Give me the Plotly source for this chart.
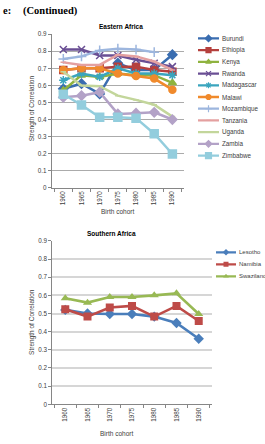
import plotly.graph_objects as go

W, H = 265, 444

cohorts = ["1960", "1965", "1970", "1975", "1980", "1985", "1990"]
y_ticks = [0, 0.1, 0.2, 0.3, 0.4, 0.5, 0.6, 0.7, 0.8, 0.9]
y_ticktext = ["0", "0.1", "0.2", "0.3", "0.4", "0.5", "0.6", "0.7", "0.8", "0.9"]

# Eastern Africa
east_names = ["Burundi", "Ethiopia", "Kenya", "Rwanda", "Madagascar", "Malawi",
              "Mozambique", "Tanzania", "Uganda", "Zambia", "Zimbabwe"]
burundi = [0.58, 0.61, 0.55, 0.73, 0.69, 0.69, 0.78]
ethiopia = [0.69, 0.70, 0.70, 0.71, 0.71, 0.69, 0.68]
kenya = [0.57, 0.66, 0.65, 0.67, 0.66, 0.66, 0.615]
rwanda = [0.81, 0.81, 0.775, 0.775, 0.75, 0.73, 0.71]
madagascar = [0.63, 0.67, 0.65, 0.70, 0.67, 0.67, 0.66]
malawi = [0.69, 0.70, 0.70, 0.67, 0.655, 0.64, 0.575]
mozambique = [0.755, 0.77, 0.805, 0.815, 0.81, 0.795, None]
tanzania = [0.735, 0.72, 0.72, 0.78, 0.77, 0.74, 0.69]
uganda = [0.68, 0.60, 0.595, 0.54, 0.515, 0.487, 0.417]
zambia = [0.53, 0.54, 0.56, 0.433, 0.437, 0.442, 0.40]
zimbabwe = [0.548, 0.485, 0.413, 0.413, 0.408, 0.317, 0.198]
east_values = [burundi, ethiopia, kenya, rwanda, madagascar, malawi,
               mozambique, tanzania, uganda, zambia, zimbabwe]

# Southern Africa
south_names = ["Lesotho", "Namibia", "Swaziland"]
lesotho = [0.52, 0.50, 0.497, 0.497, 0.483, 0.448, 0.361]
namibia = [0.524, 0.483, 0.533, 0.542, 0.483, 0.542, 0.459]
swaziland = [0.584, 0.56, 0.591, 0.591, 0.60, 0.611, 0.497]
south_values = [lesotho, namibia, swaziland]

# styles
east_colors = ["#3A6DB0", "#B5403D", "#8FB33F", "#6A4F94", "#3AA5BE", "#F08A2C",
               "#9DB6DE", "#E4A0A0", "#C3D69B", "#B3A2C7", "#93CDDD"]
east_symbols = ["diamond", "square", "triangle-up", "x-thin-open", "asterisk-open", "circle",
                "cross-thin-open", "line-ew-open", "line-ew-open", "diamond", "square"]
east_msize = [7, 7, 7, 7, 7, 7, 7, 4, 4, 7, 8]
south_colors = ["#4A7EBB", "#BE4B48", "#98B954"]
south_symbols = ["diamond", "square", "triangle-up"]


def px(x):
    return x / W


def py(y):
    return 1 - y / H


fig = go.Figure()

# main series
for name, vals, c, s, ms in zip(east_names, east_values, east_colors, east_symbols, east_msize):
    fig.add_trace(go.Scatter(x=cohorts, y=vals, name=name, mode="lines+markers",
                             line=dict(color=c, width=2.5),
                             marker=dict(symbol=s, size=ms, color=c, line=dict(color=c, width=1.5)),
                             xaxis="x", yaxis="y", showlegend=False, connectgaps=False))
for name, vals, c, s in zip(south_names, south_values, south_colors, south_symbols):
    fig.add_trace(go.Scatter(x=cohorts, y=vals, name=name, mode="lines+markers",
                             line=dict(color=c, width=2.6),
                             marker=dict(symbol=s, size=8, color=c),
                             xaxis="x2", yaxis="y2", showlegend=False))

# custom legends (legend subplots: x in px-units, y = entry index)
annotations = []
legfont = dict(size=6.3, color="#404040", family="Liberation Sans")
for i, (name, c, s, ms) in enumerate(zip(east_names, east_colors, east_symbols, east_msize)):
    fig.add_trace(go.Scatter(x=[0, 21], y=[i, i], mode="lines", line=dict(color=c, width=2.3),
                             xaxis="x3", yaxis="y3", showlegend=False, hoverinfo="skip"))
    fig.add_trace(go.Scatter(x=[10.5], y=[i], mode="markers",
                             marker=dict(symbol=s, size=max(ms - 2, 3), color=c, line=dict(color=c, width=1.2)),
                             xaxis="x3", yaxis="y3", showlegend=False, hoverinfo="skip"))
    annotations.append(dict(x=22.5, y=i, xref="x3", yref="y3", text=name, showarrow=False,
                            xanchor="left", yanchor="middle", font=legfont))
for i, (name, c, s) in enumerate(zip(south_names, south_colors, south_symbols)):
    fig.add_trace(go.Scatter(x=[0, 20], y=[i, i], mode="lines", line=dict(color=c, width=2.3),
                             xaxis="x4", yaxis="y4", showlegend=False, hoverinfo="skip"))
    fig.add_trace(go.Scatter(x=[10], y=[i], mode="markers",
                             marker=dict(symbol=s, size=5, color=c),
                             xaxis="x4", yaxis="y4", showlegend=False, hoverinfo="skip"))
    annotations.append(dict(x=20.5, y=i, xref="x4", yref="y4", text=name, showarrow=False,
                            xanchor="left", yanchor="middle", font=dict(size=6.0, color="#404040",
                                                                        family="Liberation Sans")))

tickfont = dict(size=6.3, color="#404040", family="Liberation Sans")


def xaxis_cfg(domain, anchor):
    return dict(domain=domain, anchor=anchor, type="category", tickangle=-90,
                ticks="outside", tickson="boundaries", ticklen=3, tickcolor="#868686",
                showline=True, linecolor="#868686", linewidth=1, showgrid=False,
                tickfont=tickfont, fixedrange=True)


def yaxis_cfg(domain, anchor, gridcolor, gridwidth):
    return dict(domain=domain, anchor=anchor, range=[0, 0.9], tickvals=y_ticks,
                ticktext=y_ticktext, ticks="outside", ticklen=3, tickcolor="#868686",
                showline=True, linecolor="#868686", linewidth=1,
                showgrid=True, gridcolor=gridcolor, gridwidth=gridwidth, zeroline=False,
                tickfont=tickfont, fixedrange=True)


top_x = [px(51.7), px(184)]
top_y = [py(186.7), py(30.7)]
bot_x = [px(52.3), px(211.7)]
bot_y = [py(406.7), py(240.7)]

n_e = len(east_names)
leg_e_step = 11.9
leg_e_top = 35
leg_s_step = 12.2
leg_s_top = 252.3
n_s = len(south_names)

fig.update_layout(
    width=W, height=H, margin=dict(l=0, r=0, t=0, b=0),
    paper_bgcolor="white", plot_bgcolor="white",
    xaxis=xaxis_cfg(top_x, "y"),
    yaxis=yaxis_cfg(top_y, "x", "#ABABAB", 1),
    xaxis2=xaxis_cfg(bot_x, "y2"),
    yaxis2=yaxis_cfg(bot_y, "x2", "#D6D6D6", 1.6),
    xaxis3=dict(domain=[px(198), px(265)], range=[0, 67], visible=False, anchor="y3", fixedrange=True),
    yaxis3=dict(domain=[py(leg_e_top + (n_e - 0.5) * leg_e_step), py(leg_e_top - 0.5 * leg_e_step)],
                range=[n_e - 0.5, -0.5], visible=False, anchor="x3", fixedrange=True),
    xaxis4=dict(domain=[px(216), px(265)], range=[0, 49], visible=False, anchor="y4", fixedrange=True),
    yaxis4=dict(domain=[py(leg_s_top + (n_s - 0.5) * leg_s_step), py(leg_s_top - 0.5 * leg_s_step)],
                range=[n_s - 0.5, -0.5], visible=False, anchor="x4", fixedrange=True),
    showlegend=False,
)

labfont = dict(size=6.5, color="#404040", family="Liberation Sans")
titlefont = dict(size=6.5, color="#000000", family="Liberation Sans")
annotations += [
    dict(x=px(0.5), y=py(7), xref="paper", yref="paper", text="<b>e:</b>", showarrow=False,
         xanchor="left", yanchor="middle", font=dict(size=10.5, color="#000", family="Liberation Serif")),
    dict(x=px(21), y=py(7), xref="paper", yref="paper", text="<b>(Continued)</b>", showarrow=False,
         xanchor="left", yanchor="middle", font=dict(size=10.5, color="#000", family="Liberation Serif")),
    dict(x=px(121), y=py(22.7), xref="paper", yref="paper", text="<b>Eastern Africa</b>", showarrow=False,
         xanchor="center", yanchor="middle", font=titlefont),
    dict(x=px(111.7), y=py(233.3), xref="paper", yref="paper", text="<b>Southern Africa</b>", showarrow=False,
         xanchor="center", yanchor="middle", font=titlefont),
    dict(x=px(117), y=py(211), xref="paper", yref="paper", text="Birth cohort", showarrow=False,
         xanchor="center", yanchor="middle", font=labfont),
    dict(x=px(116), y=py(436.7), xref="paper", yref="paper", text="Birth cohort", showarrow=False,
         xanchor="center", yanchor="middle", font=labfont),
    dict(x=px(32), y=py(106), xref="paper", yref="paper", text="Strength of Correlation", showarrow=False,
         textangle=-90, xanchor="center", yanchor="middle", font=labfont),
    dict(x=px(32), y=py(323), xref="paper", yref="paper", text="Strength of Correlation", showarrow=False,
         textangle=-90, xanchor="center", yanchor="middle", font=labfont),
]
fig.update_layout(annotations=annotations)

fig.write_html("out.html")
